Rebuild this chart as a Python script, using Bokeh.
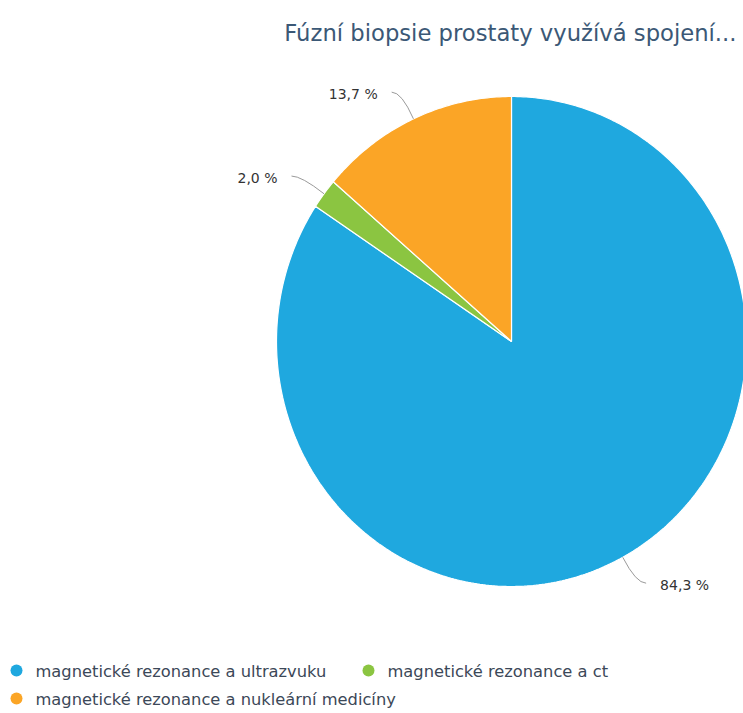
import numpy as np
from bokeh.plotting import figure
from bokeh.models import Range1d, ColumnDataSource
from bokeh.embed import file_html
from bokeh.resources import INLINE
from bokeh.core.properties import value, field

# ---- data ----
categories = [
    "magnetické rezonance a ultrazvuku",
    "magnetické rezonance a ct",
    "magnetické rezonance a nukleární medicíny",
]
shares = [84.3, 2.0, 13.7]
share_labels = ["84,3 %", "2,0 %", "13,7 %"]
colors = ["#1fa8df", "#8bc541", "#fba526"]
title_text = "Fúzní biopsie prostaty využívá spojení..."

# ---- figure (pixel-like coordinates, y downwards) ----
W, H = 743, 713
p = figure(width=W, height=H, output_backend="svg", toolbar_location=None,
           x_range=Range1d(0, W), y_range=Range1d(H, 0), min_border=0,
           outline_line_color=None, background_fill_color="white")
p.axis.visible = False
p.grid.visible = False

FONT = value("DejaVu Sans")

# pie geometry (slightly elliptical like the reference)
cx, cy, rx, ry = 511, 341, 235, 245
frac = np.array(shares) / sum(shares)
ends = np.cumsum(frac) * 2 * np.pi
starts = ends - frac * 2 * np.pi

xs, ys = [], []
for a0, a1 in zip(starts, ends):
    t = np.linspace(a0, a1, max(int((a1 - a0) * 80), 6))
    xs.append([cx] + list(cx + rx * np.sin(t)))
    ys.append([cy] + list(cy - ry * np.cos(t)))
p.patches(xs=xs, ys=ys, fill_color=colors, line_color="white", line_width=1.2)

# connectors and data labels
mid = (starts + ends) / 2
s, c = np.sin(mid), np.cos(mid)
side = np.sign(s)
x0 = cx + rx * s
y0 = cy - ry * c
xc = cx + 1.12 * rx * s
yc = cy - 1.12 * ry * c
x2 = xc + 10 * side
y2 = yc
p.quadratic(x0=x0, y0=y0, x1=x2, y1=y2, cx=xc, cy=yc,
            line_color="#9a9a9a", line_width=1)

lab_src = ColumnDataSource(dict(
    x=x2 + 14 * side, y=y2 + 2, text=share_labels,
    align=["left" if v > 0 else "right" for v in side]))
p.text(x="x", y="y", text="text", source=lab_src, text_align=field("align"),
       text_baseline="middle", text_font=FONT, text_font_size="14px",
       text_color="#333333")

# title
p.text(x=[736], y=[32], text=[title_text], text_align="right",
       text_baseline="alphabetic", text_font=FONT, text_font_size="22.7px",
       text_color="#3b5876")

# legend (manual)
leg_x = [16, 368, 16]
leg_y = [670, 670, 698]
p.scatter(x=leg_x, y=leg_y, size=12, marker="circle", fill_color=colors,
          line_color=None)
p.text(x=[v + 19 for v in leg_x], y=[v + 1 for v in leg_y], text=categories,
       text_align="left", text_baseline="middle", text_font=FONT,
       text_font_size="16.3px", text_color="#3c4858")

open("out.html", "w").write(file_html(p, INLINE))
